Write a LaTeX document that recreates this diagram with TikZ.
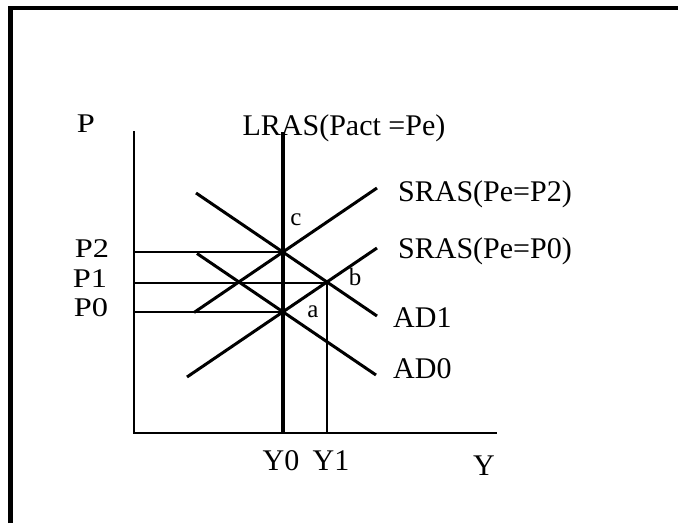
\documentclass[tikz,border=0pt]{standalone}
\usepackage{fontspec}
\setmainfont{Liberation Serif}
\newfontfamily\axisfont[FakeStretch=1.2]{Liberation Serif}
\usetikzlibrary{positioning}

\begin{document}
\begin{tikzpicture}[
    x=1pt, y=-1pt,
    frame/.style={line width=4.3pt},
    axis/.style={line width=1.5pt},
    curve/.style={line width=3pt},
    guide/.style={line width=2.2pt},
    lras/.style={line width=3.6pt},
    lbl/.style={inner sep=0pt, anchor=base, font=\fontsize{30}{36}\selectfont},
    plbl/.style={inner sep=0pt, anchor=base, font=\axisfont\fontsize{27}{31}\selectfont},
    ptlbl/.style={inner sep=0pt, anchor=base, font=\fontsize{25}{29}\selectfont}
]
\useasboundingbox (0,0) rectangle (678,523);

% Frame: left and top edges only
\draw[frame] (10.5,523) -- (10.5,8) -- (678,8);

% Axes and equilibrium points
\coordinate (O)    at (134,433);
\coordinate (Ptop) at (134,131);
\coordinate (Yend) at (497,433);
\coordinate (c)    at (283,252);
\coordinate (a)    at (283,312);
\coordinate (b)    at (327,283);
\coordinate (P2)   at (134,252);
\coordinate (P1)   at (134,283);
\coordinate (P0)   at (134,312);
\coordinate (Y0)   at (283,433);
\coordinate (Y1)   at (327,433);
\coordinate (Ltop) at (283,132);

% Curve end points
\coordinate (S2l) at (194,312.5);  \coordinate (S2r) at (377,188);
\coordinate (S0l) at (187,377);    \coordinate (S0r) at (377,248);
\coordinate (D1l) at (196,193);    \coordinate (D1r) at (377,316);
\coordinate (D0l) at (197,253.5);  \coordinate (D0r) at (376,375);

\draw[axis] (Ptop) -- (O) -- (Yend);
\draw[lras] (Ltop) -- (Y0);

\draw[guide] (P2) -- (c);
\draw[guide] (P1) -- (b);
\draw[guide] (P0) -- (a);
\draw[guide] (b) -- (Y1);

\draw[curve] (S2l) -- (S2r);
\draw[curve] (S0l) -- (S0r);
\draw[curve] (D1l) -- (D1r);
\draw[curve] (D0l) -- (D0r);

% Labels
\node[plbl] (Plbl)  at (86,132)  {P};
\node[plbl] (P2lbl) at (92,257)  {P2};
\node[plbl] (P1lbl) at (90,287)  {P1};
\node[plbl] (P0lbl) at (91,316)  {P0};
\node[lbl] (Llbl)   at (344,135) {LRAS(Pact =Pe)};
\node[lbl, anchor=base west] (S2lbl) at (398,201) {SRAS(Pe=P2)};
\node[lbl, anchor=base west] (S0lbl) at (398,258) {SRAS(Pe=P0)};
\node[lbl, anchor=base west] (D1lbl) at (393,327) {AD1};
\node[lbl, anchor=base west] (D0lbl) at (393,378) {AD0};
\node[lbl] (Y0lbl) at (281,470) {Y0};
\node[lbl] (Y1lbl) at (331,470) {Y1};
\node[lbl] (Ylbl)  at (484,475) {Y};
\node[ptlbl] (clbl) at (296,225) {c};
\node[ptlbl] (blbl) at (355,285) {b};
\node[ptlbl] (albl) at (313,317) {a};

\end{tikzpicture}
\end{document}
